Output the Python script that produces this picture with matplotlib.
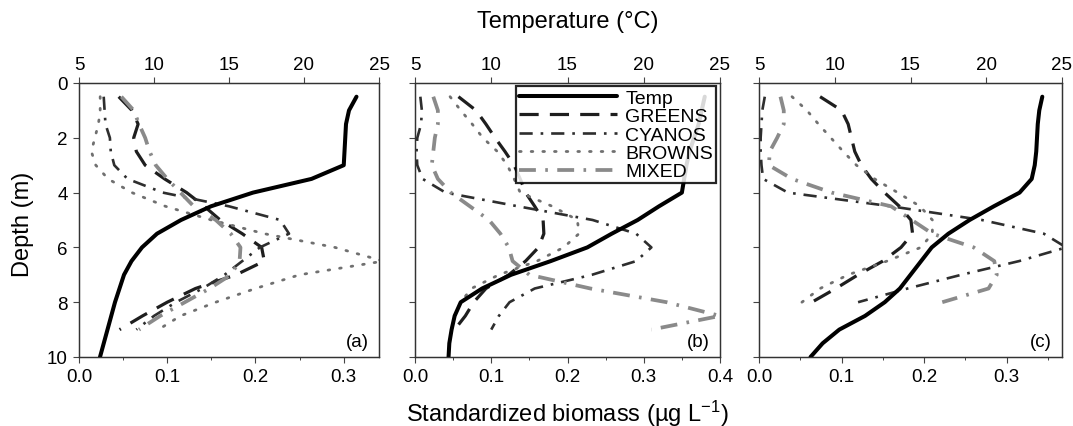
import matplotlib
matplotlib.use("Agg")
import matplotlib.pyplot as plt
from matplotlib.ticker import MultipleLocator, FormatStrFormatter

plt.rcParams['font.family'] = ['Liberation Sans', 'DejaVu Sans']
plt.rcParams['mathtext.fontset'] = 'custom'
plt.rcParams['mathtext.rm'] = 'Liberation Sans'
plt.rcParams['mathtext.it'] = 'Liberation Sans:italic'

# ---------------- data ----------------
temp_depth = [0.5, 1.0, 1.5, 2.0, 2.5, 3.0, 3.5, 4.0, 4.5, 5.0, 5.5, 6.0, 6.5,
              7.0, 7.5, 8.0, 8.5, 9.0, 9.5, 10.0]
temp_a = [23.5, 23.0, 22.8, 22.75, 22.7, 22.65, 20.5, 16.6, 13.8, 11.8, 10.2, 9.2,
          8.5, 8.0, 7.7, 7.4, 7.15, 6.9, 6.65, 6.4]
temp_b = [24.0, 23.8, 23.6, 23.3, 23.0, 22.8, 22.65, 22.5, 21.0, 19.6, 17.9, 16.3,
          13.9, 11.3, 9.4, 8.0, 7.6, 7.4, 7.25, 7.2]
temp_c = [23.7, 23.5, 23.4, 23.35, 23.3, 23.2, 23.0, 22.2, 20.5, 18.9, 17.5, 16.4,
          15.7, 15.0, 14.3, 13.3, 12.0, 10.3, 9.2, 8.4]

depth_ab = [0.5, 1.0, 1.5, 2.0, 2.5, 3.0, 3.5, 4.0, 4.5, 5.0, 5.5, 6.0, 6.5,
            7.0, 7.5, 8.0, 8.5, 9.0]
greens_a = [0.045, 0.060, 0.067, 0.062, 0.065, 0.075, 0.097, 0.122, 0.142, 0.160,
            0.185, 0.207, 0.210, 0.178, 0.132, 0.100, 0.072, 0.046]
cyanos_a = [0.028, 0.029, 0.030, 0.035, 0.036, 0.040, 0.055, 0.095, 0.170, 0.228,
            0.238, 0.205, 0.185, 0.165, 0.140, 0.110, 0.085, 0.065]
browns_a = [0.024, 0.024, 0.022, 0.018, 0.014, 0.019, 0.033, 0.060, 0.098, 0.150,
            0.210, 0.290, 0.345, 0.250, 0.200, 0.155, 0.115, 0.090]
mixed_a = [0.048, 0.062, 0.068, 0.075, 0.080, 0.087, 0.100, 0.115, 0.130, 0.155,
           0.172, 0.183, 0.182, 0.172, 0.148, 0.120, 0.092, 0.068]

greens_b = [0.057, 0.080, 0.093, 0.105, 0.118, 0.130, 0.138, 0.145, 0.157, 0.168,
            0.169, 0.162, 0.145, 0.123, 0.093, 0.077, 0.066, 0.052]
cyanos_b = [0.007, 0.009, 0.008, 0.003, 0.002, 0.003, 0.010, 0.040, 0.135, 0.233,
            0.290, 0.310, 0.290, 0.232, 0.157, 0.124, 0.110, 0.100]
browns_b = [0.046, 0.060, 0.075, 0.089, 0.108, 0.121, 0.130, 0.138, 0.180, 0.213,
            0.215, 0.195, 0.160, 0.110, 0.074, 0.060, 0.052, 0.048]
mixed_b = [0.024, 0.030, 0.030, 0.026, 0.024, 0.022, 0.030, 0.047, 0.072, 0.097,
           0.112, 0.123, 0.128, 0.150, 0.230, 0.330, 0.400, 0.310]

depth_c = [0.5, 1.0, 1.5, 2.0, 2.5, 3.0, 3.5, 4.0, 4.5, 5.0, 5.5, 6.0, 6.5, 7.0, 7.5, 8.0]
greens_c = [0.074, 0.100, 0.108, 0.112, 0.116, 0.124, 0.136, 0.152, 0.170, 0.184,
            0.186, 0.172, 0.150, 0.120, 0.093, 0.064]
cyanos_c = [0.007, 0.004, 0.003, 0.002, 0.002, 0.003, 0.005, 0.035, 0.160, 0.270,
            0.345, 0.372, 0.315, 0.245, 0.180, 0.120]
browns_c = [0.040, 0.058, 0.072, 0.087, 0.102, 0.118, 0.140, 0.168, 0.195, 0.210,
            0.210, 0.196, 0.155, 0.108, 0.074, 0.052]
mixed_c = [0.026, 0.030, 0.030, 0.022, 0.013, 0.012, 0.040, 0.088, 0.160, 0.185,
           0.210, 0.260, 0.285, 0.288, 0.278, 0.222]

panel_labels = ['(a)', '(b)', '(c)']
biomass_xmax = [0.34, 0.40, 0.367]
series_names = ['Temp', 'GREENS', 'CYANOS', 'BROWNS', 'MIXED']

panels = [
    (temp_a, depth_ab, greens_a, cyanos_a, browns_a, mixed_a),
    (temp_b, depth_ab, greens_b, cyanos_b, browns_b, mixed_b),
    (temp_c, depth_c, greens_c, cyanos_c, browns_c, mixed_c),
]

# ---------------- styles ----------------
styles = {
    'GREENS': dict(color='#1e1e1e', lw=2.3, ls=(0, (6.0, 3.5))),
    'CYANOS': dict(color='#2e2e2e', lw=1.9, ls=(0, (5, 3, 1, 3))),
    'BROWNS': dict(color='#707070', lw=2.0, ls=(0, (0.6, 3.6)), dash_capstyle='round'),
    'MIXED': dict(color='#8a8a8a', lw=2.7, ls=(0, (4.5, 2.5, 0.7, 2.5))),
}
temp_style = dict(color='black', lw=2.9, solid_capstyle='round')

fig = plt.figure(figsize=(10.73, 4.27), dpi=100)
lefts = [79, 415, 759]
widths = [300, 305, 303]
W, H = 1073, 427
bottom = 1 - 358 / H
height = (358 - 84) / H

tick_font = 13.5
label_font = 17
for i, (tmp, dep, gr, cy, br, mx) in enumerate(panels):
    ax = fig.add_axes([lefts[i] / W, bottom, widths[i] / W, height])
    l1, = ax.plot(gr, dep, **styles['GREENS'], label='GREENS')
    l2, = ax.plot(cy, dep, **styles['CYANOS'], label='CYANOS')
    l3, = ax.plot(br, dep, **styles['BROWNS'], label='BROWNS')
    l4, = ax.plot(mx, dep, **styles['MIXED'], label='MIXED')
    ax.set_xlim(0, biomass_xmax[i])
    ax.set_ylim(10, 0)
    ax.xaxis.set_major_locator(MultipleLocator(0.1))
    ax.xaxis.set_minor_locator(MultipleLocator(0.05))
    ax.xaxis.set_major_formatter(FormatStrFormatter('%.1f'))
    ax.yaxis.set_major_locator(MultipleLocator(2))
    ax.tick_params(axis='both', which='major', direction='out', length=4,
                   width=0.8, labelsize=tick_font, color='#444444', pad=4)
    ax.tick_params(axis='x', which='minor', direction='out', length=2.5,
                   width=0.7, color='#444444')
    if i > 0:
        ax.tick_params(axis='y', labelleft=False)
    for sp in ax.spines.values():
        sp.set_linewidth(0.9)
        sp.set_color('#333333')
    ax.text(0.965, 0.025, panel_labels[i], transform=ax.transAxes,
            ha='right', va='bottom', fontsize=13.5)

    axt = ax.twiny()
    lt, = axt.plot(tmp, temp_depth, **temp_style, label='Temp')
    axt.set_xlim(5, 25)
    axt.set_ylim(10, 0)
    axt.xaxis.set_major_locator(MultipleLocator(5))
    axt.tick_params(axis='x', which='major', direction='out', length=4,
                    width=0.8, labelsize=tick_font, color='#444444', pad=3)
    for sp in axt.spines.values():
        sp.set_linewidth(0.9)
        sp.set_color('#333333')
    if i == 1:
        leg = axt.legend([lt, l1, l2, l3, l4], series_names,
                         loc='upper right', bbox_to_anchor=(0.987, 0.988),
                         fontsize=14, handlelength=5.0, handletextpad=0.45,
                         labelspacing=0.04, borderpad=0.15, borderaxespad=0.0,
                         fancybox=False, framealpha=0.85, edgecolor='black')
        leg.get_frame().set_linewidth(1.6)

fig.text(568 / W, 1 - 22 / H, 'Temperature (°C)', ha='center', va='center',
         fontsize=label_font)
fig.text(567 / W, 1 - 414 / H, r'Standardized biomass (µg L$^{-1}$)',
         ha='center', va='center', fontsize=label_font)
fig.text(23 / W, 1 - 224 / H, 'Depth (m)', rotation=90, ha='center', va='center',
         fontsize=label_font)

fig.savefig('out.png', dpi=100)
